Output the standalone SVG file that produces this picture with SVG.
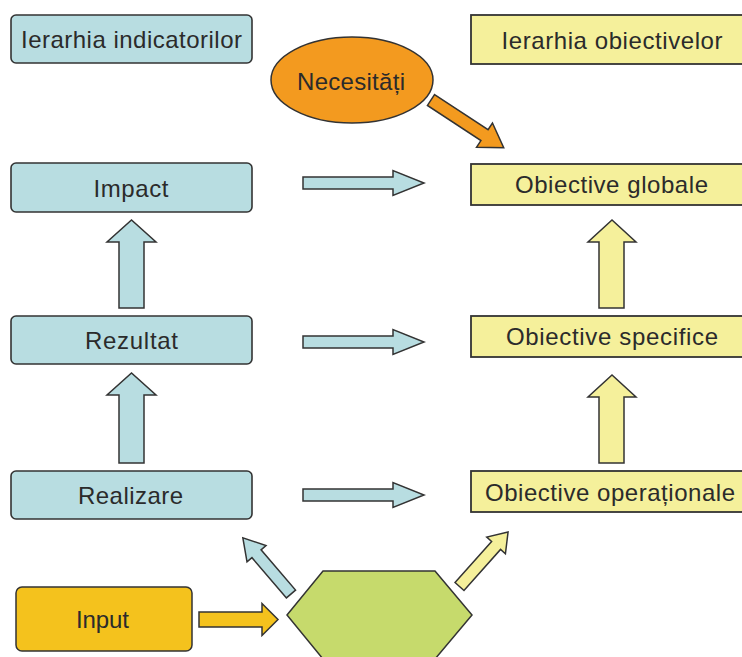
<svg xmlns="http://www.w3.org/2000/svg" width="742" height="657" viewBox="0 0 742 657">
<style>
  .blue { fill:#b8dde1; stroke:#333; stroke-width:1.6; }
  .yellow { fill:#f5f09b; stroke:#333; stroke-width:1.8; }
  .orange { fill:#f39a1f; stroke:#333; stroke-width:1.5; }
  .gold { fill:#f4c21d; stroke:#333; stroke-width:1.5; }
  .green { fill:#c6da6c; stroke:#333; stroke-width:1.5; }
  .arr { stroke:#333; stroke-width:1.5; stroke-linejoin:miter; }
  text { font-family:"Liberation Sans", Arial, sans-serif; font-size:24px; fill:#2b2b2b; text-anchor:middle; }
</style>
<rect width="742" height="657" fill="#ffffff"/>

<g id="ierarhia-indicatorilor">
  <rect class="blue" x="11" y="15" width="241" height="48" rx="5"/>
  <text x="131.5" y="48" textLength="221">Ierarhia indicatorilor</text>
</g>
<g id="ierarhia-obiectivelor">
  <rect class="yellow" x="471" y="15" width="290" height="49"/>
  <text x="612" y="49" textLength="221">Ierarhia obiectivelor</text>
</g>
<g id="necesitati">
  <ellipse class="orange" cx="352" cy="80" rx="81" ry="43"/>
  <text x="351" y="90" textLength="108">Necesități</text>
</g>
<g id="impact">
  <rect class="blue" x="11" y="163" width="241" height="49" rx="5"/>
  <text x="131" y="197" textLength="75">Impact</text>
</g>
<g id="rezultat">
  <rect class="blue" x="11" y="316" width="241" height="48" rx="5"/>
  <text x="131.5" y="349" textLength="93">Rezultat</text>
</g>
<g id="realizare">
  <rect class="blue" x="11" y="471" width="241" height="48" rx="5"/>
  <text x="130.5" y="504" textLength="105">Realizare</text>
</g>
<g id="input">
  <rect class="gold" x="16" y="587" width="176" height="64" rx="6"/>
  <text x="102.5" y="628" textLength="53">Input</text>
</g>
<g id="obiective-globale">
  <rect class="yellow" x="471" y="164" width="290" height="41"/>
  <text x="611.5" y="193" textLength="193">Obiective globale</text>
</g>
<g id="obiective-specifice">
  <rect class="yellow" x="471" y="316" width="290" height="41"/>
  <text x="612" y="345" textLength="212">Obiective specifice</text>
</g>
<g id="obiective-operationale">
  <rect class="yellow" x="471" y="471" width="290" height="41"/>
  <text x="610" y="501" textLength="250">Obiective operaționale</text>
</g>
<g id="activitati">
  <polygon class="green" points="287,615 323,571 435,571 472,615 435,659 323,659"/>
</g>

<g id="connectors">
  <polygon class="arr orange" transform="translate(431,100) rotate(33.3)" points="0,-6.5 64,-6.5 64,-14.5 87,0 64,14.5 64,6.5 0,6.5"/>
  <polygon class="arr blue" points="303,177 393,177 393,170.5 424,183 393,195.5 393,189 303,189"/>
  <polygon class="arr blue" points="303,336 393,336 393,329.5 424,342 393,354.5 393,348 303,348"/>
  <polygon class="arr blue" points="303,489 393,489 393,482.5 424,495 393,507.5 393,501 303,501"/>
  <polygon class="arr blue" points="119,308 119,242 107,242 131.5,220 156,242 144,242 144,308"/>
  <polygon class="arr blue" points="119,463 119,395 107,395 131.5,373 156,395 144,395 144,463"/>
  <polygon class="arr yellow" points="599,308 599,242 588,242 612,220 636,242 624,242 624,308"/>
  <polygon class="arr yellow" points="599,463 599,397 588,397 612,375 636,397 624,397 624,463"/>
  <polygon class="arr gold" points="199,612 262,612 262,603.5 278,619.5 262,635.5 262,627 199,627"/>
  <polygon class="arr blue" transform="translate(291,594) rotate(-130.6)" points="0,-6 53,-6 53,-12.5 74,0 53,12.5 53,6 0,6"/>
  <polygon class="arr yellow" transform="translate(459.5,586.5) rotate(-48.3)" points="0,-6 55,-6 55,-12.5 73,0 55,12.5 55,6 0,6"/>
</g>
</svg>
